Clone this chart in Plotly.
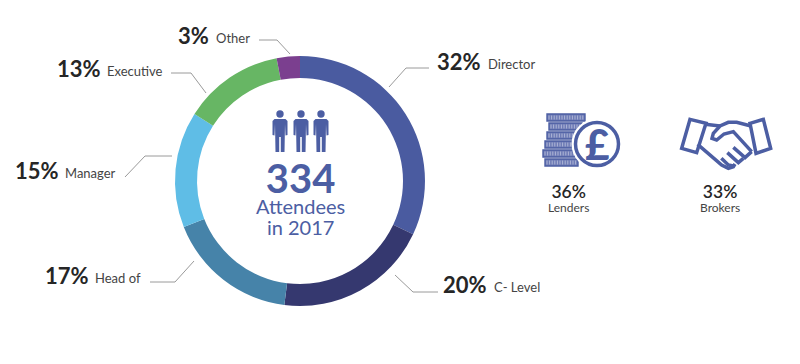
import plotly.graph_objects as go

W, H = 800, 364

roles = ["Director", "C- Level", "Head of", "Manager", "Executive", "Other"]
shares = [32, 20, 17, 15, 13, 3]
colors = ["#4A5BA0", "#35386F", "#4683A9", "#5FBDE6", "#67B664", "#7B3F8F"]
# left x of pct, left x of role label, baseline y
label_pos = {
    "Director": (436, 487, 69), "C- Level": (442, 493, 292), "Head of": (44, 94, 283),
    "Manager": (14, 64, 178), "Executive": (56, 106, 76), "Other": (177, 215, 43),
}
leaders = {
    "Director": [(389, 87), (406, 68), (429, 68)],
    "C- Level": [(395, 275), (413, 292), (438, 292)],
    "Head of": [(194, 261), (175, 282), (150, 282)],
    "Manager": [(172, 156), (145, 156), (125, 177)],
    "Executive": [(171, 73), (191, 73), (206, 93)],
    "Other": [(259, 40), (277, 40), (290, 54)],
}
attendees = "334"
side_pcts = ["36%", "33%"]
side_names = ["Lenders", "Brokers"]

BLUE = "#4C5EA3"
DARK = "#262626"
GREY = "#444444"
FONT = "Lato"


def fx(x): return x / W
def fy(y): return 1 - y / H


fig = go.Figure(go.Pie(
    labels=roles, values=shares, sort=False, direction="clockwise", rotation=0,
    hole=0.824, marker=dict(colors=colors, line=dict(width=0)), textinfo="none",
    showlegend=False, domain=dict(x=[fx(175), fx(425)], y=[fy(306), fy(56)]),
))

shapes, annos = [], []


def text(x, y, s, size, color, anchor="left", weight=400):
    annos.append(dict(x=fx(x), y=fy(y), xref="paper", yref="paper", text=s, showarrow=False,
                      xanchor=anchor, yanchor="middle", borderpad=0,
                      font=dict(family=FONT, size=size, color=color, weight=weight)))


def path(pts, color=BLUE, width=3, close=False, fill=None):
    d = "M " + " L ".join(f"{fx(x)} {fy(y)}" for x, y in pts)
    if close:
        d += " Z"
    shapes.append(dict(type="path", xref="paper", yref="paper", path=d,
                       line=dict(color=color, width=width), fillcolor=fill or "rgba(0,0,0,0)"))


def circle(cx, cy, r, color=BLUE, width=0, fill=BLUE):
    shapes.append(dict(type="circle", xref="paper", yref="paper",
                       x0=fx(cx - r), x1=fx(cx + r), y0=fy(cy + r), y1=fy(cy - r),
                       line=dict(color=color, width=width), fillcolor=fill))


# Labels and leader lines
for role, share in zip(roles, shares):
    xp, xr, base = label_pos[role]
    text(xp, base - 7.5, f"{share}%", 22, DARK, weight=700)
    text(xr, base - 5, role, 13, GREY)
    path(leaders[role], color="#9A9A9A", width=1)

# Centre text: one block, so the three lines share a single line spacing
text(300.5, 196, (f"<span style='font-size:40px;font-weight:700'>{attendees}</span><br>"
                  "<span style='font-size:20px'>Attendees</span><br>"
                  "<span style='font-size:20px'>in 2017</span>"), 16.15, BLUE, "center")

# People icons
for cx in (280, 301, 321):
    circle(cx, 114, 3.7)
    path([(cx - 5.5, 119), (cx + 5.5, 119), (cx + 7.5, 121), (cx + 7.5, 135), (cx + 5.5, 135.5),
          (cx + 5, 124), (cx + 4.5, 152), (cx + 0.8, 152), (cx + 0.8, 137), (cx - 0.8, 137),
          (cx - 0.8, 152), (cx - 4.5, 152), (cx - 5, 124), (cx - 5.5, 135.5), (cx - 7.5, 135),
          (cx - 7.5, 121)], width=0, close=True, fill=BLUE)

# Coin stack icon
coin_rows = [(547, 585, 114), (549, 582, 123), (547, 575, 132), (545, 573, 141), (543, 575, 150), (545, 578, 159)]
for x0, x1, y0 in coin_rows:
    shapes.append(dict(type="rect", xref="paper", yref="paper", x0=fx(x0), x1=fx(x1),
                       y0=fy(y0 + 7), y1=fy(y0), line=dict(color=BLUE, width=1.4), fillcolor="#6F7CB6"))
    x = x0 + 2.0
    while x < x1 - 1:
        path([(x, y0 + 1.5), (x, y0 + 5.5)], color="#C9CEE4", width=0.7)
        x += 2.6
circle(597, 144, 25.5, color="white", width=0, fill="white")
circle(597, 144, 21.5, width=3.5, fill="white")
text(597, 144, "£", 42, BLUE, "center", 900)

# Handshake icon (traced on a 3x grid)


def hs(pts):
    return [(520 + x / 3, 90 + y / 3) for x, y in pts]


path(hs([(510, 88), (558, 100), (530, 188), (485, 175)]), close=True, width=3.5)
path(hs([(690, 100), (730, 88), (752, 175), (708, 190)]), close=True, width=3.5)
path(hs([(556, 103), (600, 108)]), width=3.5)
path(hs([(693, 108), (650, 97), (625, 97), (600, 108), (580, 130), (576, 145), (590, 150),
         (612, 132), (640, 125), (695, 185)]), width=3.5)
path(hs([(533, 163), (605, 225), (625, 235), (640, 230), (645, 222)]), width=3.5)
path(hs([(604, 205), (625, 225), (640, 228)]), width=3.5)
path(hs([(622, 188), (655, 218), (670, 205)]), width=3.5)
path(hs([(640, 172), (675, 203), (695, 185)]), width=3.5)

# Side stats: one block each
for xc, pct, name in zip((568, 720), side_pcts, side_names):
    text(xc, 198.5, f"<span style='font-size:17.5px;font-weight:600;color:{DARK}'>{pct}</span><br>"
                    f"<span style='font-size:12px'>{name}</span>", 10.8, GREY, "center")

fig.update_layout(width=W, height=H, margin=dict(l=0, r=0, t=0, b=0),
                  paper_bgcolor="white", plot_bgcolor="white", shapes=shapes, annotations=annos)
fig.write_html("out.html", config=dict(displayModeBar=False),
               post_script="document.body.style.margin='0';")
